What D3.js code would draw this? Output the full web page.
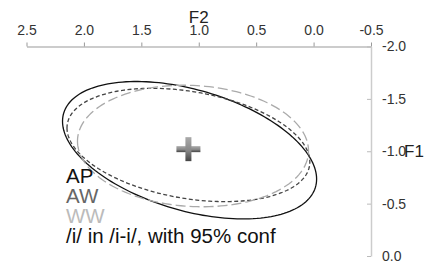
<!DOCTYPE html>
<html>
<head>
<meta charset="utf-8">
<script src="https://cdn.jsdelivr.net/npm/d3@7"></script>
<style>
  body { margin: 0; background: #fff; }
  text { font-family: "Liberation Sans", Arial, sans-serif; }
</style>
</head>
<body>
<script>
width = 426;
height = 262;

// ellipse data, one entry per speaker
speakers = ["AP", "AW", "WW"];
meanF2 = [1.08, 1.09, 1.05];
meanF1 = [-1.01, -1.06, -1.05];
sdF2 = [0.452, 0.432, 0.411];
sdF1 = [0.268, 0.221, 0.237];
corr = [-0.42, -0.30, -0.08];
grandMean = [1.09, -1.02];   // F2, F1 of the cross

xTicks = [2.5, 2.0, 1.5, 1.0, 0.5, 0.0, -0.5];
yTicks = [-2.0, -1.5, -1.0, -0.5, 0.0];
title = "/i/ in /i-i/, with 95% conf";

lineColors = ["#111", "#444", "#aaa"];
textColors = ["#111", "#666", "#bbb"];
dashes = [null, "4,2.5", "10,4"];
chi95 = Math.sqrt(5.991);

svg = d3.select("body").append("svg")
  .attr("width", width)
  .attr("height", height);

x = d3.scaleLinear().domain([2.5, -0.5]).range([26.5, 371]);
y = d3.scaleLinear().domain([-2.0, 0.0]).range([46.5, 256]);

// top axis (F2)
xAxis = svg.append("g")
  .attr("transform", "translate(0," + y(-2.0) + ")")
  .call(d3.axisTop(x).tickValues(xTicks).tickSize(4).tickSizeOuter(0).tickPadding(8));
xAxis.select(".domain").attr("stroke", "#999");
xAxis.selectAll(".tick line").attr("stroke", "#999");
xAxis.selectAll(".tick text")
  .attr("fill", "#333")
  .style("font-size", "14px")
  .style("font-family", "Liberation Sans, Arial, sans-serif")
  .text(function(d) { return d3.format(".1f")(d).replace("−", "-"); });

// right axis (F1)
yAxis = svg.append("g")
  .attr("transform", "translate(" + x(-0.5) + ",0)")
  .call(d3.axisRight(y).tickValues(yTicks).tickSize(-4).tickSizeOuter(0).tickPadding(11));
yAxis.select(".domain").attr("stroke", "#ccc").attr("stroke-width", 1.5);
yAxis.selectAll(".tick line").attr("stroke", "#bbb");
yAxis.selectAll(".tick text")
  .attr("fill", "#333")
  .style("font-size", "14px")
  .style("font-family", "Liberation Sans, Arial, sans-serif")
  .text(function(d) { return d3.format(".1f")(d).replace("−", "-"); });

svg.append("text")
  .attr("x", x(1.0))
  .attr("y", 23)
  .attr("text-anchor", "middle")
  .attr("fill", "#222")
  .style("font-size", "17px")
  .text("F2");

svg.append("text")
  .attr("x", 404)
  .attr("y", y(-1.0))
  .attr("dy", "0.36em")
  .attr("fill", "#222")
  .style("font-size", "17px")
  .text("F1");

// confidence ellipses
angles = d3.range(0, 2 * Math.PI, Math.PI / 90);
line = d3.line().curve(d3.curveLinearClosed);

speakers.forEach(function(s, i) {
  var pts = angles.map(function(t) {
    var f2 = meanF2[i] + chi95 * sdF2[i] * Math.cos(t);
    var f1 = meanF1[i] + chi95 * sdF1[i] *
      (corr[i] * Math.cos(t) + Math.sqrt(1 - corr[i] * corr[i]) * Math.sin(t));
    return [x(f2), y(f1)];
  });
  svg.append("path")
    .attr("d", line(pts))
    .attr("fill", "none")
    .attr("stroke", lineColors[i])
    .attr("stroke-width", 1.3)
    .attr("stroke-dasharray", dashes[i]);
});

// cross at the mean
grad = svg.append("defs").append("linearGradient")
  .attr("id", "crossGrad")
  .attr("x1", 0).attr("y1", 0).attr("x2", 0).attr("y2", 1);
grad.append("stop").attr("offset", "0%").attr("stop-color", "#aaa");
grad.append("stop").attr("offset", "55%").attr("stop-color", "#888");
grad.append("stop").attr("offset", "100%").attr("stop-color", "#444");

cx = x(grandMean[0]);
cy = y(grandMean[1]);
svg.append("rect")
  .attr("x", cx - 12).attr("y", cy - 3)
  .attr("width", 24).attr("height", 6)
  .attr("fill", "url(#crossGrad)");
svg.append("rect")
  .attr("x", cx - 3).attr("y", cy - 12)
  .attr("width", 6).attr("height", 24)
  .attr("fill", "url(#crossGrad)");

// legend
legend = svg.append("g").attr("transform", "translate(66,0)");
speakers.forEach(function(s, i) {
  legend.append("text")
    .attr("x", 0)
    .attr("y", 183 + i * 20)
    .attr("fill", textColors[i])
    .style("font-size", "20.5px")
    .text(s);
});
legend.append("text")
  .attr("x", 0)
  .attr("y", 243)
  .attr("fill", "#111")
  .style("font-size", "20.5px")
  .text(title);
</script>
</body>
</html>
